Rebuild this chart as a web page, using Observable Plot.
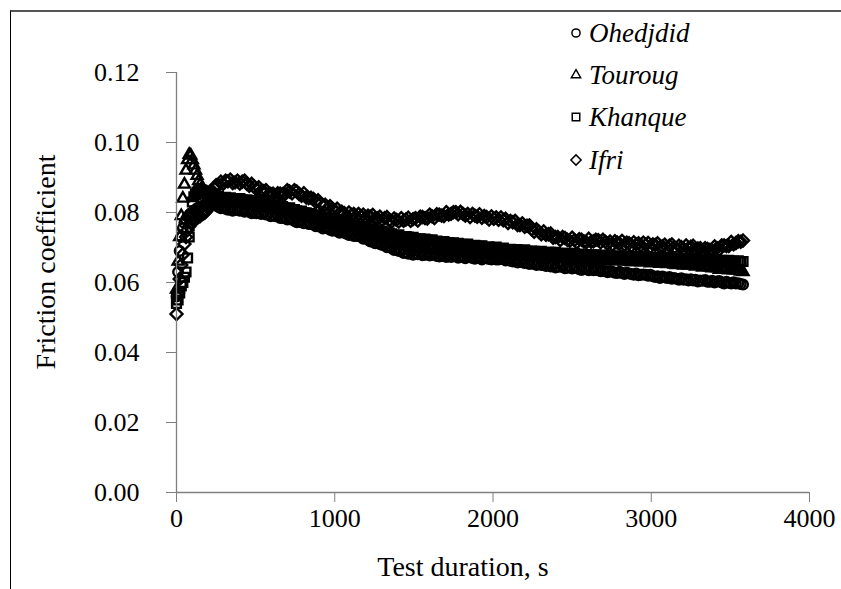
<!DOCTYPE html>
<html><head><meta charset="utf-8">
<script src="https://cdn.jsdelivr.net/npm/d3@7"></script>
<script src="https://cdn.jsdelivr.net/npm/@observablehq/plot@0.6"></script>
<style>
body{margin:0;background:#fff;}
#wrap{position:relative;width:841px;height:589px;overflow:hidden;font-family:"Liberation Serif","Times New Roman",serif;background:#fff;}
#frame{position:absolute;left:10px;top:10px;width:900px;height:700px;border-top:2px solid #555;border-left:1.5px solid #000;box-sizing:border-box;}
#chart{position:absolute;left:0;top:0;}
#legend{position:absolute;left:0;top:0;}
.lg{position:absolute;display:flex;align-items:center;height:30px;}
.lg span{font-family:"Liberation Serif","Times New Roman",serif;font-style:italic;font-size:27px;color:#000;margin-left:4px;}
</style>
</head><body>
<div id="wrap"><div id="frame"></div><div id="chart"></div><div id="legend"></div></div>
<script>
const seriesNames = ["Ohedjdid", "Touroug", "Khanque", "Ifri"];
const xTicks = [0, 1000, 2000, 3000, 4000];
const yTicks = [0, 0.02, 0.04, 0.06, 0.08, 0.10, 0.12];
const xTitle = "Test duration, s";
const yTitle = "Friction coefficient";

// test duration, s
const time = [0,10,20,30,40,50,60,70,80,90,100,110,120,130,140,150,160,170,180,190,200,210,220,230,240,250,
265,280,295,310,325,340,355,370,385,400,415,430,445,460,475,490,505,520,535,550,
565,580,595,610,625,640,655,670,685,700,715,730,745,760,775,790,805,820,835,850,
865,880,895,910,925,940,955,970,985,1000,1015,1030,1045,1060,1075,1090,1105,1120,1135,1150,
1165,1180,1195,1210,1225,1240,1255,1270,1285,1300,1315,1330,1345,1360,1375,1390,1405,1420,1435,1450,
1465,1480,1495,1510,1525,1540,1555,1570,1585,1600,1615,1630,1645,1660,1675,1690,1705,1720,1735,1750,
1765,1780,1795,1810,1825,1840,1855,1870,1885,1900,1915,1930,1945,1960,1975,1990,2005,2020,2035,2050,
2065,2080,2095,2110,2125,2140,2155,2170,2185,2200,2215,2230,2245,2260,2275,2290,2305,2320,2335,2350,
2365,2380,2395,2410,2425,2440,2455,2470,2485,2500,2515,2530,2545,2560,2575,2590,2605,2620,2635,2650,
2665,2680,2695,2710,2725,2740,2755,2770,2785,2800,2815,2830,2845,2860,2875,2890,2905,2920,2935,2950,
2965,2980,2995,3010,3025,3040,3055,3070,3085,3100,3115,3130,3145,3160,3175,3190,3205,3220,3235,3250,
3265,3280,3295,3310,3325,3340,3355,3370,3385,3400,3415,3430,3445,3460,3475,3490,3505,3520,3535,3550,
3565,3580];

// friction coefficient, in units of 1e-4
const ohedjdid = [560,630,690,730,755,770,780,788,792,798,800,805,808,812,810,815,818,820,822,825,826,828,827,826,824,822,
816,812,815,811,808,810,805,809,807,805,808,802,804,802,798,802,798,800,796,799,
794,796,789,792,789,791,784,784,785,780,781,781,776,772,776,772,769,772,767,767,
767,761,761,760,754,758,755,751,748,751,747,742,745,742,739,736,739,733,733,733,
731,725,727,722,717,718,712,714,710,707,708,701,701,698,693,695,690,690,684,686,
682,685,679,683,681,684,678,679,681,677,679,681,676,674,678,676,673,678,673,675,
677,671,673,673,669,674,672,670,668,673,670,666,671,669,667,666,670,666,666,668,
667,663,666,662,660,662,657,661,658,656,659,653,655,653,650,654,650,651,647,650,
646,649,643,646,645,647,641,642,644,640,642,643,638,636,640,638,635,639,635,636,
637,632,633,633,629,633,631,628,627,631,627,624,628,626,624,622,626,621,622,623,
622,619,622,618,616,618,613,617,615,613,616,611,613,611,608,612,608,609,606,609,
606,608,603,606,605,607,602,602,605,600,603,604,600,597,602,599,597,601,597,598,
596,594];

const touroug = [580,660,730,790,840,880,920,950,965,963,950,935,920,905,890,880,870,862,856,850,846,843,840,838,836,834,
832,834,829,832,830,832,826,827,829,824,826,827,823,820,824,821,818,823,818,819,
819,813,813,812,807,810,807,803,801,804,799,795,798,795,792,789,792,786,786,786,
784,779,781,776,772,773,767,770,766,764,766,759,760,757,752,755,750,750,745,747,
742,743,736,738,735,736,729,728,729,724,725,725,719,715,718,714,710,713,707,707,
708,702,703,703,698,702,700,697,695,699,695,691,695,693,690,688,692,687,687,688,
688,684,688,685,682,685,681,685,683,681,685,680,683,681,678,683,679,681,677,681,
678,680,675,679,677,680,675,675,678,673,676,678,673,671,676,673,671,676,671,673,
675,669,671,672,668,672,671,668,667,672,668,665,670,668,666,665,670,665,666,668,
668,664,668,665,662,665,661,665,663,662,665,660,663,661,658,663,660,661,658,662,
658,661,655,659,657,660,654,655,657,653,655,657,652,650,654,652,649,654,649,651,
652,646,648,648,643,647,645,643,641,645,641,637,642,640,637,635,639,635,635,636,
632,630];

const khanque = [540,550,570,590,600,615,630,670,730,790,830,845,852,858,862,865,864,862,860,858,855,853,851,849,847,845,
847,841,842,843,838,842,840,837,835,840,836,832,836,834,831,829,833,829,829,830,
828,824,826,821,818,819,813,817,813,811,813,806,808,805,800,804,799,799,795,797,
792,793,786,789,786,787,780,779,780,775,776,776,770,766,769,765,761,765,759,759,
760,753,754,753,748,751,749,745,743,747,742,738,741,739,735,733,736,731,730,731,
730,726,729,725,723,725,720,724,721,719,722,716,718,717,713,717,713,714,710,713,
709,712,706,709,707,710,704,704,706,702,704,705,700,698,702,699,696,701,696,697,
698,693,694,695,690,694,693,690,689,693,689,686,690,689,686,684,689,684,685,686,
686,682,686,683,680,683,679,683,681,680,683,678,681,679,676,680,677,679,675,679,
676,678,673,677,676,678,673,674,676,672,675,676,672,670,674,672,670,674,670,672,
674,668,670,671,667,671,670,668,666,671,668,664,669,668,665,664,669,664,665,667,
667,663,667,664,662,664,660,665,663,661,665,660,663,661,658,663,660,661,658,662,
660,660];

const ifri = [510,570,610,650,680,710,730,750,760,770,780,782,780,785,788,790,795,797,800,805,815,828,842,855,868,878,
878,888,882,891,889,894,884,886,891,883,888,891,882,876,882,874,866,872,861,861,
864,851,853,854,845,855,854,852,852,864,860,855,864,860,853,848,855,843,841,842,
839,830,835,826,819,822,811,818,811,806,811,798,802,798,791,800,793,796,789,796,
789,794,784,791,788,793,782,783,788,779,784,787,778,774,783,779,774,784,776,780,
785,776,781,784,777,788,787,784,783,794,789,784,795,794,791,790,801,794,796,801,
801,795,802,796,791,796,787,796,791,788,795,785,790,787,780,789,782,786,779,786,
778,782,770,776,772,776,764,764,769,759,762,763,752,745,752,745,738,746,736,738,
740,728,730,730,721,730,727,722,719,728,721,715,724,722,717,715,725,716,718,722,
721,715,722,716,711,717,708,718,714,711,719,708,714,712,705,715,709,712,706,714,
707,713,702,709,707,712,701,703,708,700,705,709,700,696,705,701,696,706,698,702,
705,694,697,698,689,698,696,693,692,703,698,694,706,706,704,704,716,709,713,718,
716,720];

const seriesValues = [ohedjdid, touroug, khanque, ifri];
const symbols = ["circle", "triangle2", "square2", "diamond2"];
const radii = [4.8, 5.2, 5.6, 5.4];
const serif = "'Liberation Serif', 'Times New Roman', serif";

const rows = vals => time.map((t, i) => ({t, v: vals[i] / 10000}));
const axisGray = "#7f7f7f";

const chart = Plot.plot({
  width: 841, height: 589,
  marginLeft: 176, marginRight: 32, marginTop: 72, marginBottom: 97,
  style: {fontFamily: serif, fontSize: "26px", color: "#000", background: "transparent", overflow: "visible"},
  x: {domain: [0, 4000]},
  y: {domain: [0, 0.12]},
  marks: [
    Plot.axisX({ticks: xTicks, tickSize: 10, tickPadding: 6, tickFormat: d3.format("d"), stroke: axisGray, fill: "#000", fontFamily: serif, fontSize: 26, label: null}),
    Plot.axisY({ticks: yTicks, tickSize: 10, tickPadding: 27, tickFormat: d3.format(".2f"), stroke: axisGray, fill: "#000", fontFamily: serif, fontSize: 26, label: null}),
    ...seriesValues.map((vals, k) => Plot.dot(rows(vals), {
      x: "t", y: "v", symbol: symbols[k], r: radii[k],
      stroke: "#000", strokeWidth: 2.4, fill: "none"
    })),
    Plot.ruleY([0], {stroke: axisGray, strokeWidth: 1.3}),
    Plot.ruleX([0], {stroke: axisGray, strokeWidth: 1.3})
  ]
});
document.getElementById("chart").appendChild(chart);

const svg = d3.select(chart);
svg.append("text").attr("x", 463).attr("y", 576).attr("text-anchor", "middle")
  .attr("font-family", serif).attr("font-size", 28).attr("fill", "#000").text(xTitle);
svg.append("text").attr("transform", "translate(55,262) rotate(-90)").attr("text-anchor", "middle")
  .attr("font-family", serif).attr("font-size", 28).attr("fill", "#000").text(yTitle);

// legend
const legendY = [33, 75, 117, 160];
const lg = document.getElementById("legend");
seriesNames.forEach((name, k) => {
  const row = document.createElement("div");
  row.className = "lg";
  row.style.left = "567px";
  row.style.top = (legendY[k] - 15) + "px";
  const s = d3.create("svg").attr("width", 18).attr("height", 18);
  const sym = {circle: d3.symbolCircle, triangle2: d3.symbolTriangle2, square2: d3.symbolSquare2, diamond2: d3.symbolDiamond2}[symbols[k]];
  const rr = radii[k] * 0.85;
  s.append("path").attr("transform", "translate(9,9)")
    .attr("d", d3.symbol(sym, Math.PI * rr * rr)())
    .attr("fill", "#fff").attr("stroke", "#000").attr("stroke-width", 1.5);
  row.appendChild(s.node());
  const sp = document.createElement("span");
  sp.textContent = name;
  row.appendChild(sp);
  lg.appendChild(row);
});
</script>
</body></html>
